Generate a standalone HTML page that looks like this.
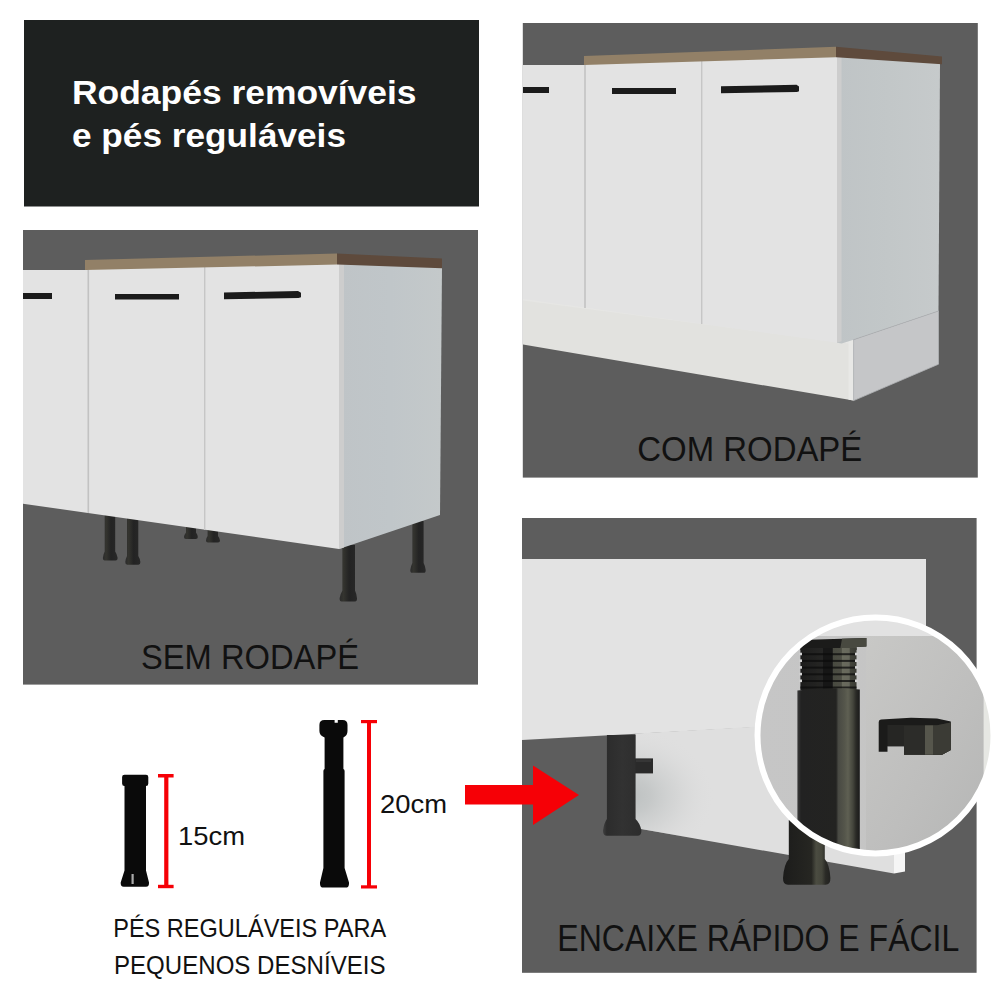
<!DOCTYPE html>
<html>
<head>
<meta charset="utf-8">
<title>Rodapés removíveis e pés reguláveis</title>
<style>
html,body{margin:0;padding:0;background:#fff;}
body{width:1000px;height:1000px;overflow:hidden;font-family:"Liberation Sans",sans-serif;}
svg{display:block;position:absolute;left:0;top:0;}
text{font-family:"Liberation Sans",sans-serif;}
</style>
</head>
<body>
<svg width="1000" height="1000" viewBox="0 0 1000 1000">
<defs>
  <linearGradient id="sideL" x1="0" y1="0" x2="1" y2="0">
    <stop offset="0" stop-color="#bfc4c7"/>
    <stop offset="0.5" stop-color="#c0c6c9"/>
    <stop offset="1" stop-color="#c4c9ca"/>
  </linearGradient>
  <linearGradient id="sideR" x1="0" y1="0" x2="1" y2="0">
    <stop offset="0" stop-color="#bfc4c6"/>
    <stop offset="0.5" stop-color="#c2c7c8"/>
    <stop offset="1" stop-color="#c6cacb"/>
  </linearGradient>
  <linearGradient id="legG" x1="0" y1="0" x2="1" y2="0">
    <stop offset="0" stop-color="#2b2b2b"/>
    <stop offset="0.22" stop-color="#34342f"/>
    <stop offset="0.55" stop-color="#232323"/>
    <stop offset="1" stop-color="#282828"/>
  </linearGradient>
  <linearGradient id="bigLeg" x1="0" y1="0" x2="1" y2="0">
    <stop offset="0" stop-color="#3a3a3a"/>
    <stop offset="0.06" stop-color="#222222"/>
    <stop offset="0.62" stop-color="#232321"/>
    <stop offset="0.655" stop-color="#484943"/>
    <stop offset="0.76" stop-color="#55564b"/>
    <stop offset="0.81" stop-color="#5f6053"/>
    <stop offset="0.89" stop-color="#44453c"/>
    <stop offset="0.94" stop-color="#2a2a26"/>
    <stop offset="1" stop-color="#1a1a1a"/>
  </linearGradient>
  <radialGradient id="plinthBack" gradientUnits="userSpaceOnUse" cx="630" cy="796" r="85" gradientTransform="translate(630 796) scale(1 0.8) translate(-630 -796)">
    <stop offset="0" stop-color="#bcc0c0" stop-opacity="1"/>
    <stop offset="0.25" stop-color="#c3c6c6" stop-opacity="0.9"/>
    <stop offset="0.55" stop-color="#cccece" stop-opacity="0.55"/>
    <stop offset="1" stop-color="#dfdfdf" stop-opacity="0"/>
  </radialGradient>
  <linearGradient id="circBg" x1="0" y1="0" x2="1" y2="0">
    <stop offset="0" stop-color="#c6c6c6"/>
    <stop offset="1" stop-color="#c4c4c3"/>
  </linearGradient>
  <linearGradient id="circBgR" x1="0" y1="0" x2="1" y2="1">
    <stop offset="0" stop-color="#c8c8c6"/>
    <stop offset="0.5" stop-color="#bebebd"/>
    <stop offset="1" stop-color="#b2b3b2"/>
  </linearGradient>
  <linearGradient id="thrG" x1="0" y1="0" x2="1" y2="0">
    <stop offset="0" stop-color="#1d1d1c"/>
    <stop offset="0.40" stop-color="#262625"/>
    <stop offset="0.41" stop-color="#171717"/>
    <stop offset="0.57" stop-color="#171717"/>
    <stop offset="0.58" stop-color="#494a41"/>
    <stop offset="0.73" stop-color="#4d4e44"/>
    <stop offset="0.75" stop-color="#6a6b5e"/>
    <stop offset="0.87" stop-color="#66675b"/>
    <stop offset="0.89" stop-color="#44453c"/>
    <stop offset="1" stop-color="#3a3b34"/>
  </linearGradient>
  <linearGradient id="leg1G" x1="0" y1="0" x2="1" y2="0">
    <stop offset="0" stop-color="#404040"/>
    <stop offset="0.1" stop-color="#2c2c2c"/>
    <stop offset="0.5" stop-color="#323232"/>
    <stop offset="1" stop-color="#2d2d2d"/>
  </linearGradient>
  <linearGradient id="leg2G" x1="0" y1="0" x2="1" y2="0">
    <stop offset="0" stop-color="#1c1c1b"/>
    <stop offset="0.6" stop-color="#262622"/>
    <stop offset="0.7" stop-color="#4b4c41"/>
    <stop offset="0.82" stop-color="#44453b"/>
    <stop offset="0.9" stop-color="#2a2a26"/>
    <stop offset="1" stop-color="#222220"/>
  </linearGradient>
  <clipPath id="circClip"><circle cx="875.500" cy="735.400" r="116"/></clipPath>
  <clipPath id="p3clip"><rect x="522" y="518" width="454.600" height="454.800"/></clipPath>
</defs>

<rect x="0" y="0" width="1000" height="1000" fill="#ffffff"/>

<!-- ===== header ===== -->
<g id="header">
  <rect x="24" y="20" width="455" height="186.500" fill="#1e2120"/>
  <text x="72" y="104" font-size="33.5" font-weight="bold" fill="#ffffff" textLength="344.5" lengthAdjust="spacingAndGlyphs">Rodapés removíveis</text>
  <text x="72" y="146.6" font-size="33.5" font-weight="bold" fill="#ffffff" textLength="274" lengthAdjust="spacingAndGlyphs">e pés reguláveis</text>
</g>

<!-- ===== panel 1 : sem rodape ===== -->
<g id="p1">
  <rect x="23" y="230" width="455" height="454.600" fill="#5d5d5d"/>
  <!-- legs behind -->
  <g fill="url(#legG)">
    <path d="M186 526 L196 526 L196 532.5 Q197.5 534.5 197.8 537.0 Q197.9 539 195.8 539 L186.0 539 Q183.9 539 184 537.0 Q184.4 534.5 186 532.5Z"/>
    <path d="M207.6 529 L218 529 L218 536 Q219.6 537.9 220 540.5 Q220.1 542.4 218.0 542.4 L208.0 542.4 Q205.9 542.4 206 540.5 Q206.2 537.9 207.6 536Z"/>
    <path d="M412.4 521 L423.6 521 L423.6 563 Q425.2 565.9 425.7 569.9 Q425.8 572.8 423.7 572.8 L412.3 572.8 Q410.2 572.8 410.3 569.9 Q410.8 565.9 412.4 563Z"/>
    <path d="M104.7 514 L115.2 514 L115.2 551.5 Q117.0 554.2 117.6 557.8 Q117.7 560.5 115.6 560.5 L104.9 560.5 Q102.8 560.5 102.9 557.8 Q103.2 554.2 104.7 551.5Z"/>
    <path d="M127 517 L138.3 517 L138.3 556 Q140.0 558.6 140.4 562.1 Q140.5 564.7 138.4 564.7 L127.3 564.7 Q125.2 564.7 125.3 562.1 Q125.6 558.6 127 556Z"/>
    <path d="M342.4 545 L355 545 L355 590.5 Q356.6 593.8 357 598.2 Q357.1 601.5 355.0 601.5 L341.6 601.5 Q339.5 601.5 339.6 598.2 Q340.4 593.8 342.4 590.5Z"/>
  </g>
  <!-- left cabinet -->
  <polygon points="23,270 88,270 88,513 23,503.7" fill="#e3e3e3"/>
  <!-- front -->
  <polygon points="88,264 339,258 339,549 88,513" fill="#e3e3e3"/>
  <!-- gaps -->
  <rect x="87.5" y="268" width="1.6" height="245" fill="#c2c2c2"/>
  <rect x="204" y="262" width="1.4" height="268" fill="#c6c6c6"/>
  <!-- side -->
  <polygon points="339,262 442,266.5 440,515 339,549" fill="url(#sideL)"/>
  <polygon points="339,262 344,262.2 344,547.4 339,549" fill="#cdcdcd"/>
  <!-- wood -->
  <polygon points="85,260 337,253.5 337,264.6 85,270" fill="#928067"/>
  <polygon points="337,253.5 442,258.6 442,268.2 337,264.6" fill="#5e4a3c"/>
  <!-- handles -->
  <rect x="23" y="293" width="29" height="6" fill="#1b1b1b"/>
  <rect x="115" y="294" width="64" height="5.5" fill="#1b1b1b"/>
  <polygon points="224,292.5 298,291 301,292.8 301,297.3 298.500,298 224,299.2" fill="#1b1b1b"/>
  <text x="141" y="669.4" font-size="34.5" fill="#111111" textLength="218" lengthAdjust="spacingAndGlyphs">SEM RODAPÉ</text>
</g>

<!-- ===== panel 2 : com rodape ===== -->
<g id="p2">
  <rect x="522.800" y="23" width="455" height="454.600" fill="#5d5d5d"/>
  <!-- plinth -->
  <polygon points="523,296 853.6,339.7 853.6,400.6 523,344.5" fill="#e2e2df"/>
  <polygon points="523,296 853.6,339.7 853.6,344.2 523,300.5" fill="#e6e6e4"/>
  <polygon points="848.5,339 853.6,339.7 853.6,400.6 848.5,399.7" fill="#e8e8e6"/>
  <!-- left cabinet -->
  <polygon points="523,65 585,65 585,307.6 523,299" fill="#e3e3e3"/>
  <!-- front -->
  <polygon points="585,60 837,52 837,342.7 585,307.6" fill="#e3e3e3"/>
  <rect x="584.2" y="63" width="1.6" height="245" fill="#c2c2c2"/>
  <rect x="701" y="58" width="1.4" height="266" fill="#c6c6c6"/>
  <!-- side -->
  <polygon points="837,55 940,63 938.5,311 853.6,339.7 841.7,343.5 837,342.7" fill="url(#sideR)"/>
  <polygon points="837,55 841.5,55.3 841.5,341.2 837,342.7" fill="#cdcdcd"/>
  <polygon points="853.6,339.7 938.5,311 938.5,364.2 853.6,400.6" fill="#c5c6c8" stroke="#b0b3b5" stroke-width="0.8"/>
  <!-- wood -->
  <polygon points="584,56 836,46.8 836,57.3 584,65" fill="#928067"/>
  <polygon points="836,46.8 942,56.6 942,64.3 836,57.3" fill="#5e4a3c"/>
  <!-- handles -->
  <rect x="523" y="87" width="26" height="6" fill="#1b1b1b"/>
  <rect x="612" y="88" width="64" height="6" fill="#1b1b1b"/>
  <polygon points="721,86.3 796.500,84.8 799,86.500 799,91.3 797,92 721,93.2" fill="#1b1b1b"/>
  <text x="637.3" y="460.7" font-size="34.5" fill="#111111" textLength="225" lengthAdjust="spacingAndGlyphs">COM RODAPÉ</text>
</g>

<!-- ===== panel 3 : encaixe ===== -->
<g id="p3">
  <rect x="522" y="518" width="454.600" height="454.800" fill="#5d5d5d"/>
  <g clip-path="url(#p3clip)">
    <!-- board -->
    <polygon points="522,559 926,559 926,718 522,740" fill="#e3e3e3"/>
    <!-- back plinth -->
    <polygon points="635.5,733.6 894,719 894,873.6 635.5,828" fill="#dfdfdf"/>
    <polygon points="635.5,733.6 894,719 894,873.6 635.5,828" fill="url(#plinthBack)"/>
    <polygon points="894,852 905,852 905,871.5 894,873.6" fill="#f5f5f5"/>
    <!-- clip -->
    <rect x="634" y="758.400" width="19" height="15" fill="#2a2a2a"/>
    <rect x="636" y="759.500" width="15" height="2.500" fill="#363636"/>
    <!-- leg 1 -->
    <path d="M606.9 735 L635.5 735 L635.5 819 Q640 823 641.400 830.500 Q641.600 835.700 637.500 835.700 L607 835.700 Q602.800 835.700 603 830.500 Q604 823 606.900 819Z" fill="url(#leg1G)"/>
    <!-- leg 2 -->
    <path d="M788.800 820 L824.800 820 L824.800 859 Q829.500 864 830.400 878 Q830.600 884.800 825.500 884.800 L788 884.800 Q782.800 884.800 783 878 Q784 864 788.800 859Z" fill="url(#leg2G)"/>
  </g>
  <!-- circle -->
  <circle cx="875.500" cy="735.400" r="118" fill="url(#circBg)"/>
  <g clip-path="url(#circClip)">
    <rect x="750" y="610" width="250" height="26" fill="#e2e2e2"/>
    <rect x="866" y="636" width="140" height="240" fill="url(#circBgR)"/>
    <rect x="983.600" y="610" width="20" height="260" fill="#e6e7e3"/>
    <!-- cap -->
    <path d="M809 639.8 L866.4 638 L866.4 646.5 L856.5 647 L856.5 650 L800.4 650 L800.4 648Z" fill="#1b1b1a"/>
    <path d="M842 638.8 L866.4 638 L866.4 646.5 L856.5 647 L856.5 650 L840 650Z" fill="#484940"/>
    <!-- thread -->
    <rect x="800.4" y="648" width="56.1" height="42" fill="url(#thrG)"/>
    <g fill="#0d0d0d" opacity="0.75">
      <rect x="800.4" y="653.2" width="56.1" height="2"/>
      <rect x="800.4" y="659.9" width="56.1" height="2"/>
      <rect x="800.4" y="666.6" width="56.1" height="2"/>
      <rect x="800.4" y="673.3" width="56.1" height="2"/>
      <rect x="800.4" y="680" width="56.1" height="2"/>
      <rect x="800.4" y="686.5" width="56.1" height="2"/>
    </g>
    <g fill="#d2d2d2">
      <rect x="799.4" y="652.7" width="2.6" height="2.6"/><rect x="855" y="652.7" width="2.6" height="2.6"/>
      <rect x="799.4" y="659.4" width="2.6" height="2.6"/><rect x="855" y="659.4" width="2.6" height="2.6"/>
      <rect x="799.4" y="666.1" width="2.6" height="2.6"/><rect x="855" y="666.1" width="2.6" height="2.6"/>
      <rect x="799.4" y="672.8" width="2.6" height="2.6"/><rect x="855" y="672.8" width="2.6" height="2.6"/>
      <rect x="799.4" y="679.5" width="2.6" height="2.6"/><rect x="855" y="679.5" width="2.6" height="2.6"/>
    </g>
    <!-- tube -->
    <path d="M797.4 690.500 Q828 686.500 859.800 689.500 L859.800 870 L797.400 870Z" fill="url(#bigLeg)"/>
    <!-- clip -->
    <path d="M878.7 722 Q878.7 720 881 719.6 L911 717.8 L937 718.5 L950.8 721.5 L950.8 750 L942 754.7 L904 754.7 L904 746.2 L887.5 746.2 L887.5 751.7 L878.7 751.7Z" fill="#1b1b1a"/>
    <rect x="887.5" y="725" width="16.5" height="21.2" fill="#262624"/>
    <path d="M904 725.3 L937 725.3 L950.8 722.5 L950.8 750 L942 754.7 L904 754.7Z" fill="#2c2c29"/>
    <rect x="925" y="725.3" width="8" height="29.4" fill="#56564c"/>
    <path d="M933 725.3 L937 725.3 L950.8 722.5 L950.8 750 L942 754.7 L933 754.7Z" fill="#3b3b35"/>
  </g>
  <circle cx="875.500" cy="735.400" r="118" fill="none" stroke="#ffffff" stroke-width="6"/>
  <text x="557.3" y="950.8" font-size="36" fill="#111111" textLength="402" lengthAdjust="spacingAndGlyphs">ENCAIXE RÁPIDO E FÁCIL</text>
</g>

<!-- ===== arrow ===== -->
<polygon points="465,785 533,785 533,765.5 579,795 533,825 533,804.5 465,804.5" fill="#f60006"/>

<!-- ===== feet ===== -->
<g id="feet">
  <!-- small -->
  <path d="M122.1 777 Q122.1 774.700 124.500 774.700 H146 Q148.300 774.700 148.300 777 V783.500 Q148.300 786 146 786 V870.600 L149 882.500 Q149.300 886.700 146 886.700 H123.700 Q120.400 886.700 120.700 882.500 L124.500 870.600 V786 Q122.100 786 122.100 783.500Z" fill="#0a0a0a"/>
  <rect x="131.500" y="874" width="2.200" height="10" fill="#c6c6c6" opacity="0.85"/>
  <!-- large -->
  <path d="M319.400 725 Q319.400 720 324.500 720 H334.600 V722.800 H337.800 V720 H342.500 Q347.500 720 347.500 725 V731 Q347.500 735.500 343.400 737.500 V769 Q344.600 769.500 344.600 771 V868 L349 882.500 Q349.400 887.600 345.500 887.600 H323.500 Q319.600 887.600 320 882.500 L323.400 868 V771 Q323.400 769.500 324.600 769 V737.500 Q319.400 735.500 319.400 731Z" fill="#0a0a0a"/>
  <g fill="#f60006">
    <rect x="164.200" y="775" width="4.200" height="112"/>
    <rect x="158" y="774" width="15.600" height="3.500"/>
    <rect x="158" y="884.800" width="15.600" height="3.400"/>
    <rect x="367" y="721" width="4" height="166"/>
    <rect x="361" y="720" width="16" height="3.200"/>
    <rect x="361" y="885.300" width="16" height="3.200"/>
  </g>
  <text x="178" y="844.800" font-size="25.500" fill="#111111" textLength="67" lengthAdjust="spacingAndGlyphs">15cm</text>
  <text x="380" y="812.800" font-size="25.500" fill="#111111" textLength="67" lengthAdjust="spacingAndGlyphs">20cm</text>
  <text x="113.200" y="936.500" font-size="25.500" fill="#111111" textLength="273" lengthAdjust="spacingAndGlyphs">PÉS REGULÁVEIS PARA</text>
  <text x="114" y="974.300" font-size="25.500" fill="#111111" textLength="271.500" lengthAdjust="spacingAndGlyphs">PEQUENOS DESNÍVEIS</text>
</g>
</svg>
</body>
</html>
